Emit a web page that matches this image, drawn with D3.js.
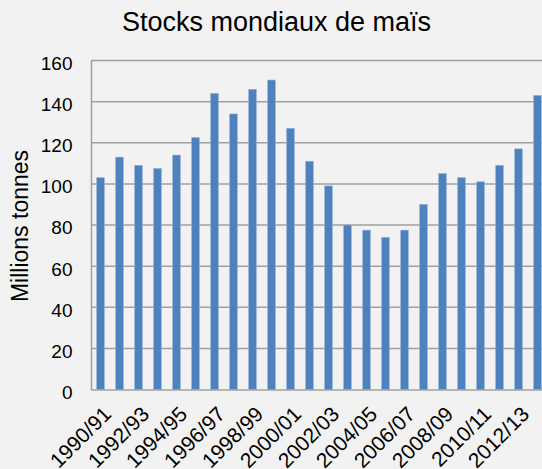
<!DOCTYPE html>
<html>
<head>
<meta charset="utf-8">
<script src="https://cdn.jsdelivr.net/npm/d3@7"></script>
<style>
  html, body { margin: 0; padding: 0; background: #f2f2f2; overflow: hidden; }
  text { font-family: "Liberation Sans", Arial, sans-serif; fill: #000; }
</style>
</head>
<body>
<div id="main"></div>
<script>
// DATA
const seasons = ["1990/91","1991/92","1992/93","1993/94","1994/95","1995/96","1996/97","1997/98",
                 "1998/99","1999/00","2000/01","2001/02","2002/03","2003/04","2004/05","2005/06",
                 "2006/07","2007/08","2008/09","2009/10","2010/11","2011/12","2012/13","2013/14"]
const stocks = [103, 113, 109, 107.5, 114, 122.5, 144, 134, 146, 150.5, 127, 111,
                99, 80, 77.5, 74, 77.5, 90, 105, 103, 101, 109, 117, 143]
const yTicks = [0, 20, 40, 60, 80, 100, 120, 140, 160]

const width = 542
const height = 469

// COLORS
const barColor = '#4f81bd'
const gridColor = '#a0a0a0'

// SCALES
const plotLeft = 91, plotTop = 60.5, plotBottom = 389.5
const step = 19

let x = d3.scaleBand()
  .domain(seasons)
  .range([plotLeft, plotLeft + seasons.length * step])
  .paddingInner(0.6)
  .paddingOuter(0.3)

let y = d3.scaleLinear()
  .domain([0, 160])
  .range([plotBottom, plotTop])

// DRAW
let svg = d3.select("#main").append("svg")
  .attr("width", width)
  .attr("height", height)
  .style("display", "block")

// title
svg.append("text")
  .attr("x", 276.5)
  .attr("y", 30.5)
  .attr("text-anchor", "middle")
  .style("font-size", "27px")
  .text("Stocks mondiaux de maïs")

// y label
svg.append("text")
  .attr("transform", "translate(28,226) rotate(-90)")
  .attr("text-anchor", "middle")
  .style("font-size", "23px")
  .text("Millions tonnes")

// gridlines
svg.append("g")
  .selectAll("line")
  .data(yTicks.filter(d => d > 0))
  .join("line")
    .attr("x1", plotLeft)
    .attr("x2", x.range()[1])
    .attr("y1", d => y(d))
    .attr("y2", d => y(d))
    .attr("stroke", gridColor)
    .attr("stroke-width", 1.5)

// y axis
let yAxis = d3.axisLeft(y).tickValues(yTicks).tickSize(0).tickPadding(0)
let gy = svg.append("g")
  .attr("transform", `translate(${plotLeft},0)`)
  .call(yAxis)
gy.select(".domain").attr("stroke", gridColor).attr("stroke-width", 1.5)
gy.selectAll("text")
  .attr("x", -18.5)
  .attr("dy", "0.47em")
  .style("font-size", "19px")
  .style("font-family", "'Liberation Sans', Arial, sans-serif")

// bars
svg.append("g")
  .selectAll("rect")
  .data(seasons)
  .join("rect")
    .attr("x", d => x(d))
    .attr("width", x.bandwidth())
    .attr("y", (d, i) => y(stocks[i]))
    .attr("height", (d, i) => plotBottom - y(stocks[i]))
    .attr("fill", barColor)
    .attr("stroke", "#8eafd8")
    .attr("stroke-width", 0.6)

// x axis
let xAxis = d3.axisBottom(x)
  .tickValues(seasons.filter((d, i) => i % 2 === 0))
  .tickSize(0)
let gx = svg.append("g")
  .attr("transform", `translate(0,${plotBottom})`)
  .call(xAxis)
gx.select(".domain").attr("stroke", gridColor).attr("stroke-width", 1.5)
gx.selectAll("text")
  .attr("y", 0)
  .attr("dy", 0)
  .attr("text-anchor", "end")
  .attr("transform", "translate(12,26) rotate(-45)")
  .style("font-size", "21px")
  .style("font-family", "'Liberation Sans', Arial, sans-serif")
</script>
</body>
</html>
